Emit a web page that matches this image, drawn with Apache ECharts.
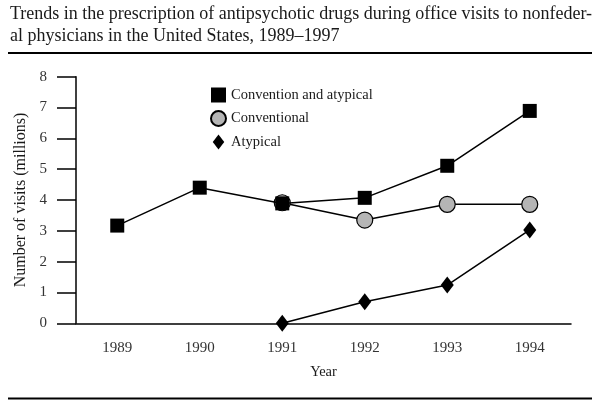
<!DOCTYPE html>
<html><head><meta charset="utf-8">
<script src="https://cdn.jsdelivr.net/npm/echarts@6/dist/echarts.min.js"></script>
<style>html,body{margin:0;padding:0;background:#fff;}#c{width:601px;height:408px;}</style>
</head><body><div id="c"></div>
<script>
const titleLines = [
  'Trends in the prescription of antipsychotic drugs during office visits to nonfeder-',
  'al physicians in the United States, 1989\u20131997'
];
const years = ['1989', '1990', '1991', '1992', '1993', '1994'];
const seriesNames = ['Convention and atypical', 'Conventional', 'Atypical'];
const combinedVisits = [3.17, 4.40, 3.89, 4.07, 5.11, 6.89];
const conventionalVisits = [null, null, 3.91, 3.35, 3.86, 3.86];
const atypicalVisits = [null, null, 0, 0.70, 1.24, 3.03];
const yAxisName = 'Number of visits (millions)';
const xAxisName = 'Year';

const FONT = '"Liberation Serif", "Times New Roman", serif';
const TXT = '#1a1a1a';
const chart = echarts.init(document.getElementById('c'), null, {renderer: 'canvas'});
const diamondPath = 'path://M6.5,0 L13,8.5 L6.5,17 L0,8.5 Z';

chart.setOption({
  backgroundColor: '#fff',
  animation: false,
  title: {
    text: titleLines.join('\n'),
    left: 10, top: 4, padding: 0,
    textStyle: {fontFamily: FONT, fontSize: 18, fontWeight: 'normal', color: TXT, lineHeight: 21.5}
  },
  graphic: [
    {type: 'line', shape: {x1: 8, y1: 53, x2: 592, y2: 53}, style: {stroke: '#000', lineWidth: 2}},
    {type: 'line', shape: {x1: 8, y1: 398.5, x2: 592, y2: 398.5}, style: {stroke: '#000', lineWidth: 2}}
  ],
  legend: {
    orient: 'vertical',
    left: 210, top: 87.5, padding: 0,
    itemWidth: 15, itemHeight: 15, itemGap: 7.5,
    textStyle: {fontFamily: FONT, fontSize: 14.5, color: TXT, lineHeight: 15},
    data: [
      {name: seriesNames[0], icon: 'rect'},
      {name: seriesNames[1], icon: 'circle'},
      {name: seriesNames[2], icon: diamondPath}
    ]
  },
  grid: {left: 76, right: 30, top: 76.7, bottom: 84.7, containLabel: false},
  xAxis: {
    type: 'category',
    data: years,
    boundaryGap: true,
    name: xAxisName,
    nameLocation: 'middle',
    nameGap: 41,
    nameTextStyle: {fontFamily: FONT, fontSize: 14.5, color: TXT, verticalAlign: 'top'},
    axisLine: {lineStyle: {color: '#000', width: 1.5}},
    axisTick: {alignWithLabel: true, length: 10, lineStyle: {color: '#000', width: 1.5}},
    axisLabel: {fontFamily: FONT, fontSize: 15, color: '#333', margin: 17},
    splitLine: {show: false}
  },
  yAxis: {
    type: 'value',
    min: 0, max: 8, interval: 1,
    name: yAxisName,
    nameLocation: 'middle',
    nameGap: 45,
    nameTextStyle: {fontFamily: FONT, fontSize: 16, color: TXT},
    axisLine: {show: true, lineStyle: {color: '#000', width: 1.5}},
    axisTick: {show: true, length: 19, lineStyle: {color: '#000', width: 1.5}},
    axisLabel: {fontFamily: FONT, fontSize: 15, color: '#333', margin: 29},
    splitLine: {show: false}
  },
  series: [
    {
      name: seriesNames[0], type: 'line', data: combinedVisits, z: 4,
      symbol: 'rect', symbolSize: 14, clip: false,
      lineStyle: {color: '#000', width: 1.5},
      itemStyle: {color: '#000', borderColor: '#000', borderWidth: 0}
    },
    {
      name: seriesNames[1], type: 'line', data: conventionalVisits, z: 3,
      symbol: 'circle', symbolSize: 16, clip: false,
      lineStyle: {color: '#000', width: 1.5},
      itemStyle: {color: '#b5b5b5', borderColor: '#000', borderWidth: 1.2}
    },
    {
      name: seriesNames[2], type: 'line', data: atypicalVisits, z: 3,
      symbol: diamondPath, symbolSize: [13, 17], clip: false,
      lineStyle: {color: '#000', width: 1.5},
      itemStyle: {color: '#000', borderColor: '#000', borderWidth: 0}
    }
  ]
});
</script>
</body></html>
